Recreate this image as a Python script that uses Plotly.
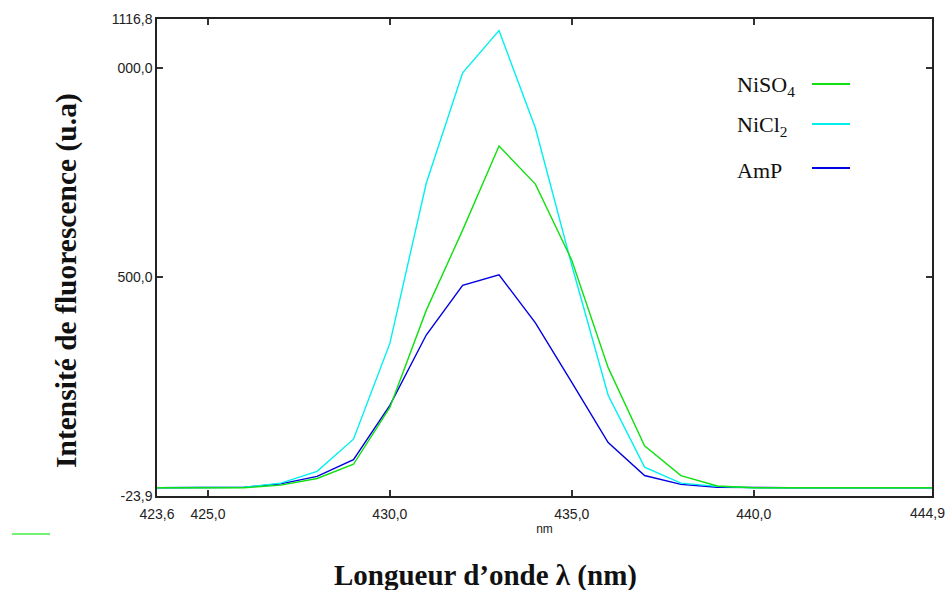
import plotly.graph_objects as go

wavelength = [423.6, 424, 425, 426, 427, 428, 429, 430, 431, 432, 433, 434, 435, 436, 437, 438, 439, 440, 441, 442, 443, 444, 444.9]
niso4 = [-4, -4, -4, -4, 2, 18, 52, 188, 420, 612, 813, 722, 540, 283, 96, 25, 0, -4, -4, -4, -4, -4, -4]
nicl2 = [-4, -4, -4, -3, 7, 35, 112, 341, 724, 988, 1089, 856, 528, 217, 45, 7, -1, -4, -4, -4, -4, -4, -4]
amp = [-4, -4, -4, -3, 5, 23, 63, 193, 361, 480, 505, 390, 248, 104, 25, 4, -3, -4, -4, -4, -4, -4, -4]

series_names = ["NiSO<sub>4</sub>", "NiCl<sub>2</sub>", "AmP"]
series_values = [niso4, nicl2, amp]
series_colors = ["#10e010", "#00f0f0", "#0000e0"]

x_tickvals = [423.6, 425, 430, 435, 440, 444.9]
x_ticktext = ["423,6", "425,0", "430,0", "435,0", "440,0", ""]
x_last_label = "444,9"
y_tickvals = [-23.9, 500, 1000, 1116.8]
y_ticktext = ["-23,9", "500,0", "000,0", "1116,8"]

fig = go.Figure()
for name, vals, col in zip(series_names[::-1], series_values[::-1], series_colors[::-1]):
    fig.add_trace(go.Scatter(x=wavelength, y=vals, mode="lines", name=name,
                             line=dict(color=col, width=1.4), showlegend=False,
                             hoverinfo="skip"))

W, H = 949, 590
L, R, T, B = 157, 949 - 932, 19, 590 - 496
pw, ph = W - L - R, H - T - B


def px(x):
    return (x - L) / pw


def py(y):
    return 1 - (y - T) / ph


annotations = []
shapes = []
legend_y = [86, 126, 170]
for name, col, yy in zip(series_names, series_colors, legend_y):
    annotations.append(dict(x=px(735), y=py(yy), xref="paper", yref="paper", text=name,
                            showarrow=False, xanchor="left", yanchor="middle",
                            font=dict(family="Liberation Serif", size=22, color="#111")))
    shapes.append(dict(type="line", xref="paper", yref="paper", x0=px(812), x1=px(850),
                       y0=py(yy - 2), y1=py(yy - 2), line=dict(color=col, width=2)))

shapes.append(dict(type="line", xref="paper", yref="paper", x0=px(12), x1=px(50),
                   y0=py(534), y1=py(534), line=dict(color="#44ee44", width=1.5)))

annotations.append(dict(x=px(947), y=py(513), xref="paper", yref="paper",
                        text=x_last_label, showarrow=False, xanchor="right", yanchor="middle",
                        font=dict(family="Liberation Sans", size=14, color="#222")))

annotations.append(dict(x=px(66), y=py(281), xref="paper", yref="paper",
                        text="<b>Intensité de fluorescence (u.a)</b>", textangle=-90,
                        showarrow=False, xanchor="center", yanchor="middle",
                        font=dict(family="Liberation Serif", size=29.5, color="#111")))
annotations.append(dict(x=px(485), y=py(575), xref="paper", yref="paper",
                        text="<b>Longueur d’onde λ (nm)</b>",
                        showarrow=False, xanchor="center", yanchor="middle",
                        font=dict(family="Liberation Serif", size=29, color="#111")))

fig.update_layout(
    width=W, height=H,
    margin=dict(l=L, r=R, t=T, b=B),
    paper_bgcolor="white", plot_bgcolor="white",
    annotations=annotations, shapes=shapes,
    hovermode=False,
    xaxis=dict(range=[423.6, 444.9], tickvals=x_tickvals, ticktext=x_ticktext,
               ticks="inside", ticklen=6, tickcolor="#333", tickwidth=1.5,
               showline=True, linecolor="#222", linewidth=1.5, mirror="ticks",
               showgrid=False, zeroline=False, ticklabelstandoff=4,
               tickfont=dict(family="Liberation Sans", size=14, color="#222"),
               title=dict(text="nm", standoff=4,
                          font=dict(family="Liberation Sans", size=12, color="#222"))),
    yaxis=dict(range=[-23.9, 1116.8], tickvals=y_tickvals, ticktext=y_ticktext,
               ticks="inside", ticklen=6, tickcolor="#333", tickwidth=1.5,
               showline=True, linecolor="#222", linewidth=1.5, mirror="ticks",
               showgrid=False, zeroline=False,
               tickfont=dict(family="Liberation Sans", size=14, color="#222")),
)

fig.write_html(
    "out.html",
    config={"displayModeBar": False},
    post_script="document.body.style.margin='0';document.documentElement.style.overflow='hidden';document.body.style.overflow='hidden';",
)
